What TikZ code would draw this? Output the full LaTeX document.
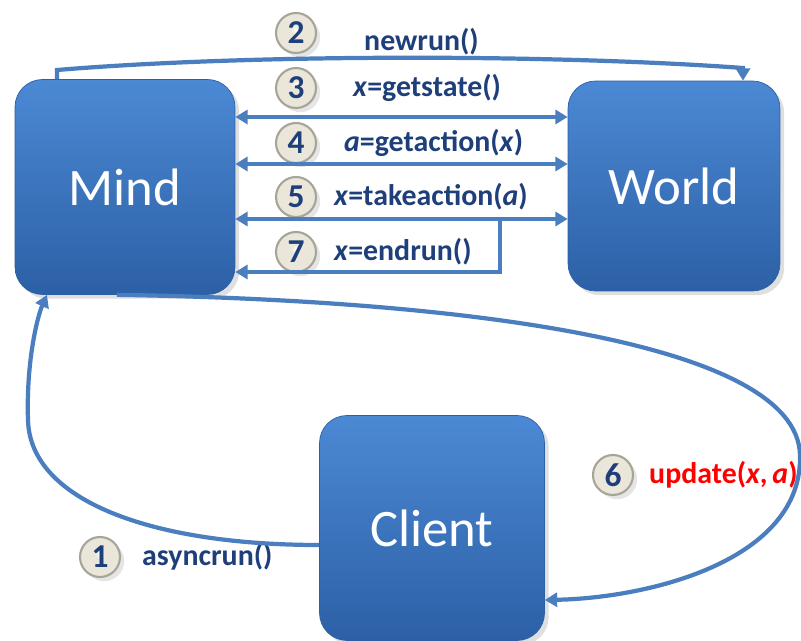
\documentclass[tikz,border=0pt]{standalone}
\usepackage{fontspec}
\setmainfont{Carlito}
\usetikzlibrary{shapes.geometric,positioning,shadows,arrows.meta}

\definecolor{boxtop}{RGB}{76,137,212}
\definecolor{boxbot}{RGB}{44,96,166}
\definecolor{wireblue}{RGB}{74,126,190}
\definecolor{ink}{RGB}{31,63,122}
\definecolor{pearlin}{RGB}{234,231,218}
\definecolor{pearlmid}{RGB}{200,195,176}
\definecolor{pearlout}{RGB}{130,125,108}
\pgfdeclareradialshading{pearl}{\pgfpoint{0bp}{4bp}}{color(0bp)=(white);
  color(6bp)=(pearlin); color(26bp)=(pearlin); color(38bp)=(pearlmid);
  color(50bp)=(pearlout); color(100bp)=(pearlout)}

\begin{document}
\begin{tikzpicture}[x=0.02cm,y=-0.02cm,
    agent/.style={rounded corners=0.55cm, top color=boxtop, bottom color=boxbot,
      draw=boxbot, text=white, font=\fontsize{30}{34}\selectfont,
      drop shadow={opacity=0.25}},
    ball/.style={circle, minimum size=0.8cm, inner sep=0pt, shading=pearl,
      draw=pearlout!70, line width=1.2pt,
      text=ink, font=\bfseries\fontsize{19}{20}\selectfont,
      drop shadow={opacity=0.2}},
    call/.style={text=ink, anchor=west, font=\bfseries\fontsize{17}{20}\selectfont},
    wire/.style={draw=wireblue, line width=2.4pt, >={Triangle[length=7pt,width=8pt]}}]
    \useasboundingbox[fill=white] (0,0) rectangle (801,641);

    \node[agent, minimum width=4.4cm, minimum height=4.3cm] (mind) at (125,187) {Mind};
    \node[agent, minimum width=4.24cm, minimum height=4.2cm] (world) at (674,186) {World};
    \node[agent, minimum width=4.5cm, minimum height=4.5cm] (client) at (432,528) {Client};

    \node[ball] (b2) at (296,33) {2};
    \node[ball] (b3) at (296,88) {3};
    \node[ball] (b4) at (296,143) {4};
    \node[ball] (b5) at (296,197) {5};
    \node[ball] (b7) at (296,252) {7};
    \node[ball] (b6) at (613,475) {6};
    \node[ball] (b1) at (100,557) {1};

    \node[call] (newrun) at (358,42) {newrun()};
    \node[call] (getstate) at (347,88) {\textit{x}=getstate()};
    \node[call] (getaction) at (338,143) {\textit{a}=getaction(\textit{x})};
    \node[call] (takeaction) at (328,197) {\textit{x}=takeaction(\textit{a})};
    \node[call] (endrun) at (328,252) {\textit{x}=endrun()};
    \node[call, text=red] (update) at (643,475) {update(\textit{x},\,\textit{a})};
    \node[call] (asyncrun) at (136,557) {asyncrun()};

    \coordinate (fork) at (500,219);

    \draw[wire,->] (57,0 |- mind.north) -- (57,70) .. controls (250,54) and (550,54) .. (743,68) -- (743,0 |- world.north);
    \draw[wire,<->] (mind.east |- 0,117) -- (world.west |- 0,117);
    \draw[wire,<->] (mind.east |- 0,164) -- (world.west |- 0,164);
    \draw[wire,<->] (mind.east |- 0,219) -- (world.west |- 0,219);
    \draw[wire,->] (fork) -- (500,272) -- (mind.east |- 0,272);
    \draw[wire,->] (117,0 |- mind.south) .. controls (450,300) and (797,340) .. (800,455)
      .. controls (803,560) and (650,598) .. (client.east |- 0,600);
    \draw[wire,->] (client.west |- 0,545) .. controls (150,545) and (30,500) .. (28,420)
      .. controls (26,360) and (38,315) .. (47,0 |- mind.south);
\end{tikzpicture}
\end{document}
